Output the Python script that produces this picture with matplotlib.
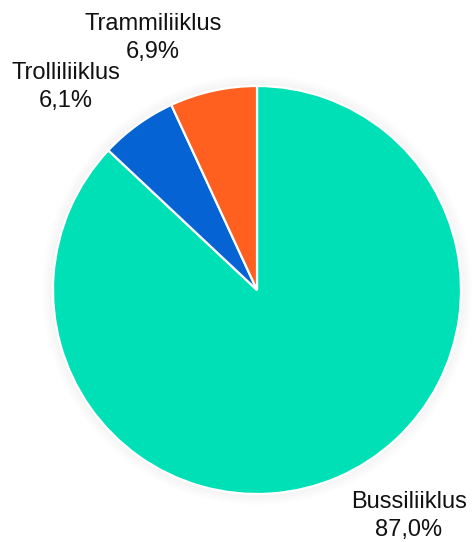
import matplotlib
matplotlib.use('Agg')

import matplotlib.pyplot as plt
import matplotlib.patches as patches

# Data (clockwise from top)
labels = ['Bussiliiklus', 'Trolliliiklus', 'Trammiliiklus']
shares = [87.0, 6.1, 6.9]
colors = ['#00E0B6', '#0563D4', '#FF5F1F']

# Label text positions (pixels, image coords)
label_pos = [(409, 516), (66, 87), (153, 38)]

W, H = 473, 542
CX, CY, R = 257, 290, 204

plt.rcParams['font.family'] = ['Liberation Sans', 'DejaVu Sans']

fig = plt.figure(figsize=(W / 100, H / 100), dpi=100)
ax = fig.add_axes([0, 0, 1, 1])

# faint shadow around pie
for i in range(6):
    ax.add_patch(patches.Circle((CX, CY), R + 1 + i * 2, facecolor='black',
                                edgecolor='none', alpha=0.008, zorder=0))

# y axis is inverted, so counterclock=True draws clockwise on screen
ax.pie(shares, colors=colors, startangle=-90, counterclock=True,
       center=(CX, CY), radius=R, frame=True,
       wedgeprops=dict(edgecolor='white', linewidth=1.6))
ax.set_xlim(0, W)
ax.set_ylim(H, 0)
ax.set_aspect('equal')
ax.axis('off')

for name, val, (x, y) in zip(labels, shares, label_pos):
    txt = f'{name}\n{val:.1f}%'.replace('.', ',')
    ax.text(x, y, txt, ha='center', va='center', fontsize=17,
            color='#111111', linespacing=1.3)

fig.savefig('out.png', dpi=100, facecolor='white')
